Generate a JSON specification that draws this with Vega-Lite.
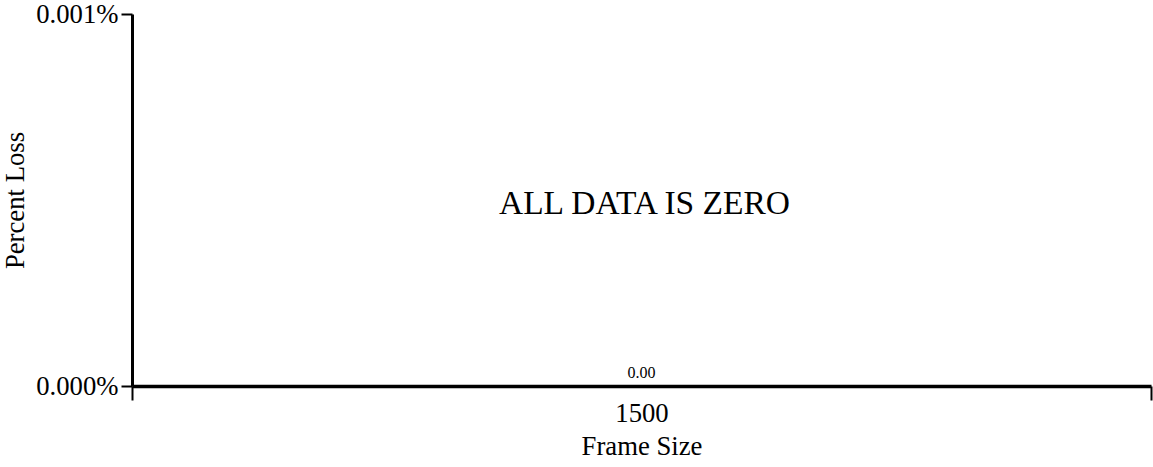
{
  "$schema": "https://vega.github.io/schema/vega-lite/v6.json",
  "width": 1019,
  "height": 372,
  "autosize": {"type": "none"},
  "padding": {"left": 132, "top": 14, "right": 2, "bottom": 81},
  "background": "white",
  "config": {
    "font": "Liberation Serif",
    "view": {"stroke": null}
  },
  "data": {"values": [{"Frame Size": "1500", "Percent Loss": 0}]},
  "encoding": {
    "x": {
      "field": "Frame Size",
      "type": "nominal",
      "scale": {"paddingInner": 0, "paddingOuter": 0},
      "axis": {
        "title": "Frame Size",
        "labelAngle": 0,
        "labelFont": "Liberation Serif",
        "labelFontSize": 26.7,
        "labelColor": "black",
        "titleFont": "Liberation Serif",
        "titleFontSize": 26.7,
        "titleFontWeight": "normal",
        "titleColor": "black",
        "titlePadding": 7,
        "domainColor": "black",
        "domainWidth": 3.5,
        "tickColor": "black",
        "tickWidth": 2,
        "tickSize": 14,
        "tickBand": "extent",
        "labelPadding": 0
      }
    }
  },
  "layer": [
    {
      "mark": {"type": "bar", "color": "#4472c4"},
      "encoding": {
        "y": {
          "field": "Percent Loss",
          "type": "quantitative",
          "scale": {"domain": [0, 0.00001], "nice": false},
          "axis": {
            "title": "Percent Loss",
            "values": [0, 0.00001],
            "format": ".3%",
            "grid": false,
            "labelFont": "Liberation Serif",
            "labelFontSize": 26.7,
            "labelColor": "black",
            "titleFont": "Liberation Serif",
            "titleFontSize": 26.7,
            "titleFontWeight": "normal",
            "titleColor": "black",
            "titlePadding": 6,
            "domainColor": "black",
            "domainWidth": 3,
            "tickColor": "black",
            "tickWidth": 2,
            "tickSize": 11,
            "labelPadding": 3
          }
        }
      }
    },
    {
      "mark": {"type": "text", "dy": -8, "baseline": "alphabetic", "fontSize": 16, "color": "black", "font": "Liberation Serif"},
      "encoding": {
        "y": {"field": "Percent Loss", "type": "quantitative"},
        "text": {"field": "Percent Loss", "type": "quantitative", "format": ".2f"}
      }
    },
    {
      "mark": {"type": "text", "fontSize": 33.5, "color": "black", "font": "Liberation Serif", "baseline": "middle", "dx": 3, "dy": 4},
      "encoding": {
        "y": {"datum": 0.000005, "type": "quantitative"},
        "text": {"value": "ALL DATA IS ZERO"}
      }
    }
  ]
}
